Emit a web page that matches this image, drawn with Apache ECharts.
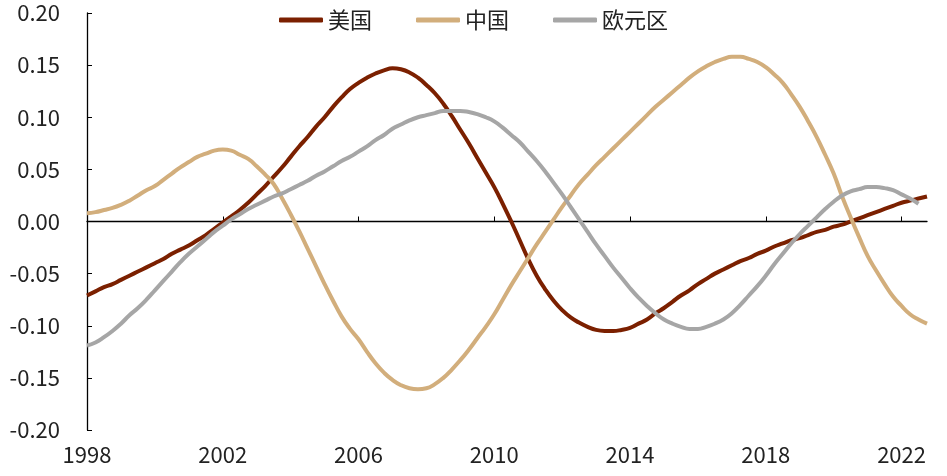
<!DOCTYPE html>
<html>
<head>
<meta charset="utf-8">
<script src="https://cdn.jsdelivr.net/npm/echarts@6/dist/echarts.min.js"></script>
<style>html,body{margin:0;padding:0;background:#fff;}#c{width:947px;height:476px;}</style>
</head>
<body>
<div id="c"></div>
<script>
// Quarterly periods 1998Q1 .. 2022Q4
const years = [1998,1999,2000,2001,2002,2003,2004,2005,2006,2007,2008,2009,2010,2011,2012,2013,2014,2015,2016,2017,2018,2019,2020,2021,2022];
const quarters = ['Q1','Q2','Q3','Q4'];
const yTickLabels = ['-0.20','-0.15','-0.10','-0.05','0.00','0.05','0.10','0.15','0.20'];
const seriesNames = ['美国','中国','欧元区'];

const usValues = [
  -0.071,-0.067,-0.063,-0.060,-0.056,-0.052,-0.048,-0.044,-0.040,-0.036,-0.031,-0.027,
  -0.023,-0.018,-0.013,-0.007,-0.001,0.005,0.011,0.018,0.026,0.034,0.043,0.052,
  0.062,0.072,0.081,0.091,0.100,0.110,0.119,0.127,0.133,0.138,0.142,0.145,
  0.147,0.146,0.143,0.138,0.131,0.123,0.113,0.101,0.088,0.075,0.061,0.047,
  0.033,0.017,0.000,-0.018,-0.036,-0.052,-0.065,-0.076,-0.085,-0.092,-0.097,-0.101,
  -0.104,-0.105,-0.105,-0.104,-0.102,-0.098,-0.094,-0.088,-0.083,-0.077,-0.071,-0.066,
  -0.060,-0.055,-0.050,-0.046,-0.042,-0.038,-0.035,-0.031,-0.028,-0.024,-0.021,-0.018,
  -0.016,-0.013,-0.010,-0.008,-0.005,-0.003,0.000,0.003,0.006,0.009,0.012,0.015,
  0.018,0.020,0.022,0.024
];
const cnValues = [
  0.008,0.009,0.011,0.013,0.016,0.020,0.025,0.030,0.034,0.040,0.046,0.052,
  0.057,0.062,0.065,0.068,0.069,0.068,0.064,0.060,0.053,0.045,0.036,0.022,
  0.007,-0.009,-0.026,-0.043,-0.060,-0.076,-0.091,-0.103,-0.113,-0.125,-0.136,-0.145,
  -0.152,-0.157,-0.160,-0.161,-0.160,-0.156,-0.150,-0.142,-0.133,-0.123,-0.112,-0.101,
  -0.089,-0.075,-0.061,-0.048,-0.035,-0.022,-0.010,0.002,0.014,0.025,0.036,0.045,
  0.054,0.062,0.070,0.078,0.086,0.094,0.102,0.110,0.117,0.124,0.131,0.138,
  0.144,0.149,0.153,0.156,0.158,0.158,0.156,0.153,0.148,0.141,0.133,0.122,
  0.110,0.096,0.081,0.064,0.046,0.024,0.004,-0.015,-0.033,-0.047,-0.060,-0.072,
  -0.081,-0.089,-0.094,-0.098
];
const euValues = [
  -0.119,-0.116,-0.111,-0.105,-0.098,-0.090,-0.083,-0.075,-0.066,-0.057,-0.048,-0.039,
  -0.031,-0.024,-0.017,-0.010,-0.004,0.002,0.007,0.012,0.016,0.020,0.024,0.027,
  0.031,0.035,0.039,0.044,0.048,0.053,0.058,0.062,0.067,0.072,0.078,0.083,
  0.089,0.093,0.097,0.100,0.102,0.104,0.106,0.106,0.106,0.105,0.103,0.100,
  0.096,0.090,0.083,0.076,0.067,0.058,0.048,0.037,0.026,0.014,0.002,-0.010,
  -0.022,-0.033,-0.044,-0.054,-0.064,-0.073,-0.081,-0.088,-0.094,-0.098,-0.101,-0.103,
  -0.103,-0.101,-0.098,-0.094,-0.088,-0.080,-0.071,-0.062,-0.052,-0.041,-0.031,-0.021,
  -0.012,-0.004,0.004,0.012,0.019,0.025,0.029,0.031,0.033,0.033,0.032,0.030,
  0.026,0.022,0.017
];

const categories = [];
years.forEach(y => quarters.forEach(q => categories.push(y + q)));

const FONT = '"Noto Sans CJK SC", "Noto Sans", sans-serif';
const colors = ['#7B2000', '#D2AE7C', '#A6A6A6'];

const chart = echarts.init(document.getElementById('c'), null, {renderer: 'canvas'});
chart.setOption({
  animation: false,
  backgroundColor: '#fff',
  color: colors,
  textStyle: {fontFamily: FONT},
  legend: {
    top: 4,
    left: 'center',
    itemWidth: 44,
    itemHeight: 5,
    itemGap: 44,
    icon: 'roundRect',
    textStyle: {fontSize: 22, color: '#222', fontFamily: FONT},
    data: seriesNames
  },
  grid: {left: 87, right: 20, top: 13, bottom: 46, containLabel: false},
  xAxis: [{
    type: 'category',
    data: categories,
    boundaryGap: false,
    position: 'bottom',
    axisLine: {show: false, onZero: false},
    axisTick: {show: false},
    splitLine: {show: false},
    axisLabel: {
      interval: 15,
      margin: 14,
      fontSize: 22,
      color: '#222',
      fontFamily: FONT,
      formatter: v => v.slice(0, 4)
    }
  }, {
    type: 'category',
    data: categories,
    boundaryGap: false,
    position: 'bottom',
    axisLine: {show: true, onZero: true, lineStyle: {color: '#000', width: 1.3}},
    axisTick: {show: true, inside: true, length: 5, interval: 15, lineStyle: {color: '#000', width: 1}},
    axisLabel: {show: false},
    splitLine: {show: false}
  }],
  yAxis: {
    type: 'value',
    min: -0.2,
    max: 0.2,
    interval: 0.05,
    axisLine: {show: true, lineStyle: {color: '#000', width: 1.3}},
    axisTick: {show: true, inside: true, length: 5, lineStyle: {color: '#000'}},
    splitLine: {show: false},
    axisLabel: {
      margin: 27,
      fontSize: 22,
      color: '#222',
      fontFamily: FONT,
      formatter: v => yTickLabels[Math.round((v + 0.2) / 0.05)]
    }
  },
  series: [
    {name: seriesNames[0], type: 'line', data: usValues, smooth: true, symbol: 'none', xAxisIndex: 0, lineStyle: {width: 4, color: colors[0]}, z: 3},
    {name: seriesNames[1], type: 'line', data: cnValues, smooth: true, symbol: 'none', xAxisIndex: 0, lineStyle: {width: 4, color: colors[1]}, z: 4},
    {name: seriesNames[2], type: 'line', data: euValues, smooth: true, symbol: 'none', xAxisIndex: 0, lineStyle: {width: 4, color: colors[2]}, z: 5}
  ]
});
</script>
</body>
</html>
